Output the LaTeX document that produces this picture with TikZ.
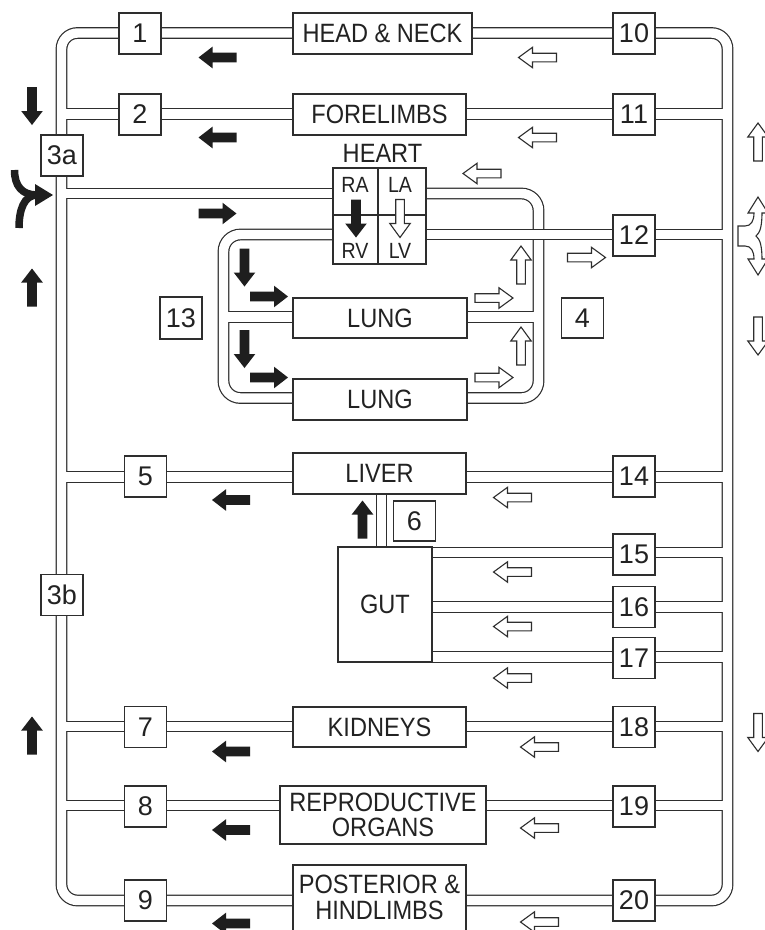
\documentclass[tikz,border=0pt]{standalone}
\usepackage{fontspec}
\setmainfont{Liberation Sans}
\newfontfamily\wf[FakeStretch=0.89]{Liberation Sans}
\definecolor{lc}{HTML}{2E2E2E}
\definecolor{ac}{HTML}{1E1E1E}
\definecolor{tc}{HTML}{222222}
\tikzset{
  vb/.style={line width=11.8pt, draw=lc},
  vw/.style={line width=9.4pt, draw=white},
  nbox/.style={draw=lc, line width=1.2pt, fill=white, minimum width=42pt, minimum height=41pt, inner sep=0pt, text=tc, font=\fontsize{27}{27}\selectfont},
  wbox/.style={draw=lc, line width=1.2pt, fill=white, minimum height=41pt, inner sep=0pt, text=tc, font=\wf\fontsize{26.5}{25.5}\selectfont},
  hlab/.style={inner sep=0pt, text=tc, font=\wf\fontsize{22}{22}\selectfont},
  pics/blk/.style={code={\fill[ac] (19,0) -- (5,-10.8) -- (5,-4.8) -- (-19,-4.8) -- (-19,4.8) -- (5,4.8) -- (5,10.8) -- cycle;}},
  pics/hol/.style={code={\filldraw[fill=white,draw=lc,line width=1.1pt] (19,0) -- (5,-10.2) -- (5,-4.3) -- (-19,-4.3) -- (-19,4.3) -- (5,4.3) -- (5,10.2) -- cycle;}},
}
\begin{document}
\begin{tikzpicture}[x=1pt,y=-1pt]
\useasboundingbox (0,0) rectangle (765,930);
\clip (0,0) rectangle (765,930);
\fill[white] (0,0) rectangle (765,930);

% pulmonary circuit
\foreach \s in {vb,vw} {
  \draw[\s, rounded corners=17pt] (420,193.5) -- (538.5,193.5) -- (538.5,398) -- (223.5,398) -- (223.5,234.5) -- (340,234.5);
  \draw[\s] (223.5,317) -- (538.5,317);
}
% systemic circuit
\foreach \s in {vb,vw} {
  \draw[\s, rounded corners=16pt] (61.5,33) rectangle (727.5,900.5);
  \draw[\s] (61.5,114) -- (727.5,114);
  \draw[\s] (61.5,193.5) -- (340,193.5);
  \draw[\s] (420,234.5) -- (727.5,234.5);
  \draw[\s] (61.5,476.8) -- (727.5,476.8);
  \draw[\s] (381.5,490) -- (381.5,550);
  \draw[\s] (400,552.5) -- (727.5,552.5);
  \draw[\s] (400,607) -- (727.5,607);
  \draw[\s] (400,657) -- (727.5,657);
  \draw[\s] (61.5,726.5) -- (727.5,726.5);
  \draw[\s] (61.5,805.5) -- (727.5,805.5);
}

% organ boxes
\node[wbox, minimum width=179pt] (hn) at (382.5,33.5) {HEAD \& NECK};
\node[wbox, minimum width=173pt] (fl) at (379.5,114.5) {FORELIMBS};
\node[wbox, minimum width=174pt, minimum height=40pt] (lung1) at (380,318) {LUNG};
\node[wbox, minimum width=174pt] (lung2) at (380,399.5) {LUNG};
\node[wbox, minimum width=173pt] (liver) at (379.5,473.5) {LIVER};
\node[wbox, minimum width=94pt, minimum height=115pt] (gut) at (385,604.5) {GUT};
\node[wbox, minimum width=173pt, minimum height=40pt] (kid) at (379.5,727) {KIDNEYS};
\node[wbox, minimum width=206pt, minimum height=58pt, align=center] (repro) at (383,815) {REPRODUCTIVE\\ORGANS};
\draw[lc, line width=1.2pt, fill=white] (293,865) rectangle (466,945);
\node[inner sep=0pt, text=tc, font=\wf\fontsize{26.5}{26.5}\selectfont, align=center] (post) at (379.5,897.5) {POSTERIOR \&\\HINDLIMBS};

% heart
\node[inner sep=0pt, text=tc, font=\wf\fontsize{26.5}{26.5}\selectfont] (heartlab) at (382.5,153.5) {HEART};
\node[draw=lc, line width=1.2pt, fill=white, minimum width=93pt, minimum height=96pt, inner sep=0pt] (heart) at (379.5,216) {};
\draw[lc, line width=1.2pt] (378,168) -- (378,264);
\draw[lc, line width=1.2pt] (333,215) -- (426,215);
\node[hlab] (ra) at (355,184.5) {RA};
\node[hlab] (la) at (400,184.5) {LA};
\node[hlab] (rv) at (355,250.5) {RV};
\node[hlab] (lv) at (400,250.5) {LV};

% numbered boxes
\node[nbox] (n1) at (140,33.5) {1};
\node[nbox] (n2) at (140,114.5) {2};
\node[nbox] (n3a) at (62,155.5) {3a};
\node[nbox] (n3b) at (62,595) {3b};
\node[nbox, minimum height=40pt] (n4) at (582.5,318) {4};
\node[nbox] (n5) at (145.5,476.5) {5};
\node[nbox, minimum height=40pt] (n6) at (414.5,521) {6};
\node[nbox] (n7) at (145.5,727) {7};
\node[nbox] (n8) at (145.5,806.5) {8};
\node[nbox] (n9) at (145.5,900.5) {9};
\node[nbox] (n10) at (634,33.5) {10};
\node[nbox] (n11) at (634,114.5) {11};
\node[nbox] (n12) at (634,235.5) {12};
\node[nbox, minimum height=42pt] (n13) at (181,318) {13};
\node[nbox] (n14) at (634,476.5) {14};
\node[nbox] (n15) at (634,554.5) {15};
\node[nbox] (n16) at (634,607) {16};
\node[nbox] (n17) at (634,658) {17};
\node[nbox] (n18) at (634,727) {18};
\node[nbox] (n19) at (634,806.5) {19};
\node[nbox] (n20) at (634,900.5) {20};

% solid arrows
\foreach \p in {(217.5,57.5),(217.5,137.5),(231,500),(231,751.5),(231,830),(231,923.5)}
  \pic[rotate=180] at \p {blk};
\foreach \p in {(217.5,213.5),(269,296.5),(269,377.5)}
  \pic at \p {blk};
\foreach \p in {(32,106),(244.5,267.5),(244.5,349),(356,218.5)}
  \pic[rotate=-90] at \p {blk};
\foreach \p in {(32,287.5),(32,735.5),(362.5,519.5)}
  \pic[rotate=90] at \p {blk};

% hollow arrows
\foreach \p in {(537.5,57.5),(537.5,137.5),(482,173.5),(512.5,497.5),(512.5,572),(512.5,626.5),(512.5,678),(539.5,747),(539.5,828),(539.5,922)}
  \pic[rotate=180] at \p {hol};
\foreach \p in {(586.5,257.5),(494,298),(494,377.5)}
  \pic at \p {hol};
\foreach \p in {(521,265),(521,346),(758,142)}
  \pic[rotate=90] at \p {hol};
\foreach \p in {(400,218.5),(758,336),(758,732.5)}
  \pic[rotate=-90] at \p {hol};

% merging solid arrow (left)
\draw[ac, line width=7.5pt] (14.5,170) .. controls (14.5,186) and (22,195) .. (37,195);
\draw[ac, line width=7.5pt] (19,228) .. controls (19,210) and (24,195) .. (37,195);
\fill[ac] (35,184) -- (53,195) -- (35,206) -- cycle;

% splitting hollow arrow (right)
\filldraw[fill=white, draw=lc, line width=1.1pt]
  (738,226) -- (745,226) .. controls (751,226) and (754,221) .. (754,213)
  -- (748,213) -- (758,197) -- (768,213) -- (762,213)
  .. controls (762,226) and (760,233) .. (756,236)
  .. controls (760,239) and (762,246) .. (762,259)
  -- (768,259) -- (758,275) -- (748,259) -- (754,259)
  .. controls (754,251) and (751,246) .. (745,246) -- (738,246) -- cycle;
\end{tikzpicture}
\end{document}
